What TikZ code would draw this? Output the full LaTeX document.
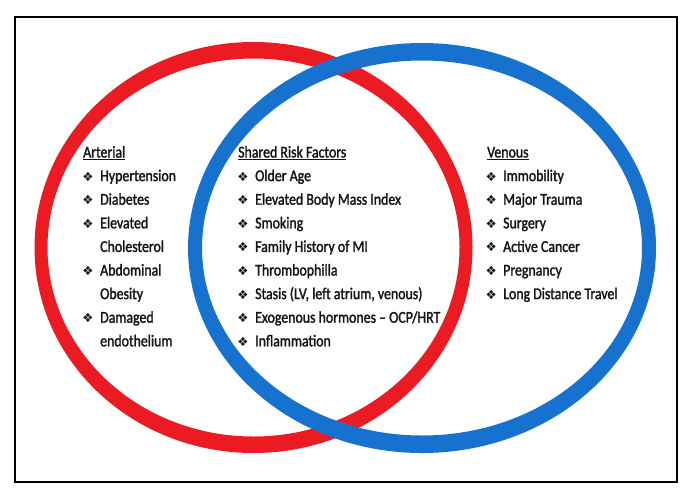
\documentclass[tikz,border=0pt]{standalone}
\usepackage{fontspec}
\setmainfont{Carlito}[FakeStretch=0.84,FakeBold=1.6]
\newfontfamily\symf{DejaVu Sans}
\definecolor{vred}{RGB}{236,26,34}
\definecolor{vblue}{RGB}{22,114,206}
\newcommand\bul{\llap{{\symf\fontsize{12.5}{12.5}\selectfont ❖}\hspace{6.5pt}}}
\tikzset{
  txt/.style={anchor=base west, inner sep=0pt, font=\fontsize{16.5}{18}\selectfont, text=black!92},
  hdr/.style={txt},
  framebox/.style={draw=black, line width=1.6pt},
}
\begin{document}
\begin{tikzpicture}[x=1pt,y=-1pt]
\useasboundingbox (0,0) rectangle (700,499);
\fill[white] (0,0) rectangle (700,499);
\draw[framebox] (15,17) rectangle (677,482);
% rings
\fill[vred, even odd rule]
  (253.5,247.5) ellipse [x radius=219pt, y radius=205.5pt]
  (253.5,247.5) ellipse [x radius=206pt, y radius=189pt];
\fill[vblue, even odd rule]
  (422,248) ellipse [x radius=234pt, y radius=205pt]
  (422,248) ellipse [x radius=220pt, y radius=187.5pt];
% Arterial
\node[hdr] (ah) at (83,157.5) {\underline{Arterial}};
\node[txt] (a1) at (100,181.1) {\bul Hypertension};
\node[txt] (a2) at (100,204.7) {\bul Diabetes};
\node[txt] (a3) at (100,228.3) {\bul Elevated};
\node[txt] (a4) at (100,251.9) {Cholesterol};
\node[txt] (a5) at (100,275.5) {\bul Abdominal};
\node[txt] (a6) at (100,299.1) {Obesity};
\node[txt] (a7) at (100,322.7) {\bul Damaged};
\node[txt] (a8) at (100,346.3) {endothelium};
% Shared
\node[hdr] (sh) at (238,157.5) {\underline{Shared Risk Factors}};
\node[txt] (s1) at (255,181.1) {\bul Older Age};
\node[txt] (s2) at (255,204.7) {\bul Elevated Body Mass Index};
\node[txt] (s3) at (255,228.3) {\bul Smoking};
\node[txt] (s4) at (255,251.9) {\bul Family History of MI};
\node[txt] (s5) at (255,275.5) {\bul Thrombophilla};
\node[txt] (s6) at (255,299.1) {\bul Stasis (LV, left atrium, venous)};
\node[txt] (s7) at (255,322.7) {\bul Exogenous hormones -- OCP/HRT};
\node[txt] (s8) at (255,346.3) {\bul Inflammation};
% Venous
\node[hdr] (vh) at (487,157.5) {\underline{Venous}};
\node[txt] (v1) at (503,181.1) {\bul Immobility};
\node[txt] (v2) at (503,204.7) {\bul Major Trauma};
\node[txt] (v3) at (503,228.3) {\bul Surgery};
\node[txt] (v4) at (503,251.9) {\bul Active Cancer};
\node[txt] (v5) at (503,275.5) {\bul Pregnancy};
\node[txt] (v6) at (503,299.1) {\bul Long Distance Travel};
\end{tikzpicture}
\end{document}
